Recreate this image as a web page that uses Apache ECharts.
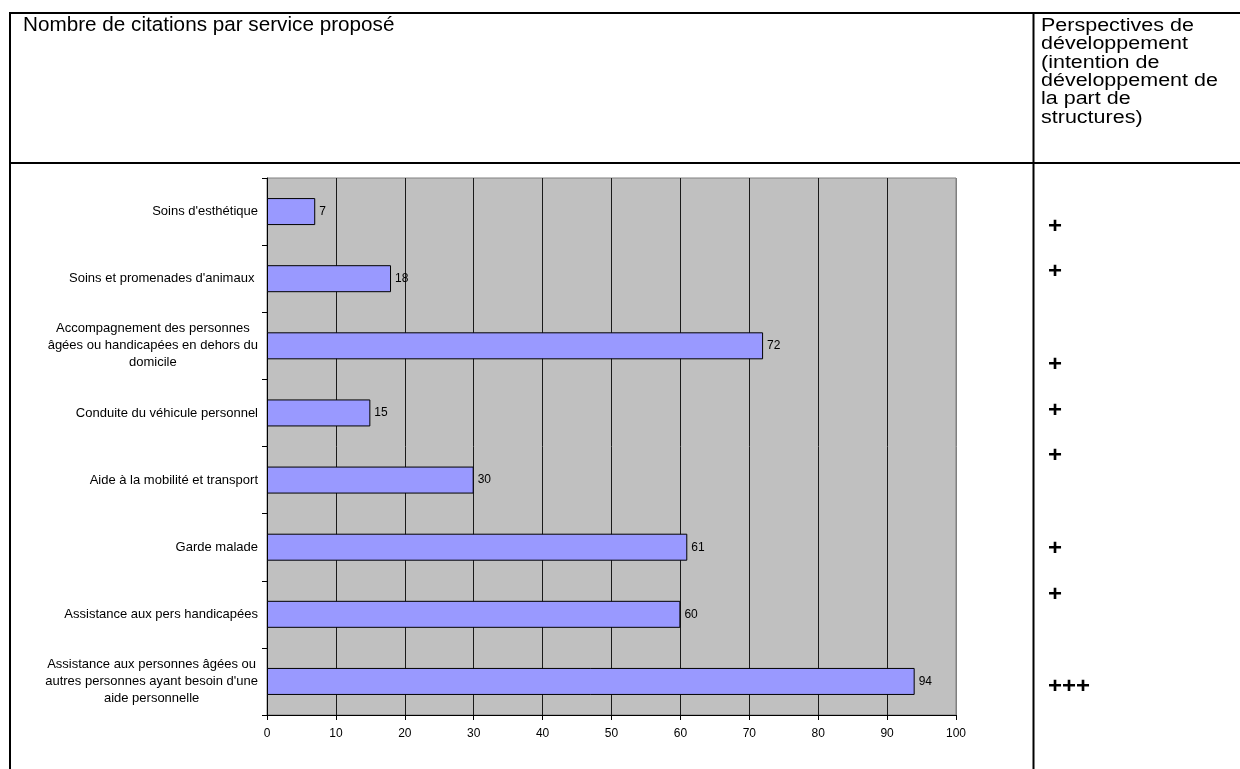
<!DOCTYPE html>
<html><head><meta charset="utf-8">
<script src="https://cdn.jsdelivr.net/npm/echarts@6/dist/echarts.min.js"></script>
<style>html,body{margin:0;padding:0;background:#fff}#c{width:1240px;height:769px}</style>
</head><body><div id="c"></div>
<script>
const titleText = 'Nombre de citations par service proposé';
const sideHeader = 'Perspectives de\ndéveloppement\n(intention de\ndéveloppement de\nla part de\nstructures)';
const categories = [
  "Soins d'esthétique",
  "Soins et promenades d'animaux ",
  "Accompagnement des personnes\nâgées ou handicapées en dehors du\ndomicile",
  "Conduite du véhicule personnel",
  "Aide à la mobilité et transport",
  "Garde malade",
  "Assistance aux pers handicapées",
  "Assistance aux personnes âgées ou\nautres personnes ayant besoin d'une\naide personnelle"
];
const values = [7, 18, 72, 15, 30, 61, 60, 94];
const perspectives = ['+', '+', '+', '+', '+', '+', '+', '+++'];
const axisMin = 0, axisMax = 100, axisStep = 10;

// layout (positions of table text, not data)
const plusY = [227, 272, 365, 411, 456, 549, 595, 687];
const FONT = "'Liberation Sans', Arial, Helvetica, sans-serif";

const chart = echarts.init(document.getElementById('c'), null, {renderer: 'canvas'});

const tableLines = [
  [9, 13, 1240, 13],
  [9, 163, 1240, 163],
  [10, 12, 10, 769],
  [1033.5, 12, 1033.5, 769]
].map(s => ({
  type: 'line', silent: true, z: 100,
  shape: {x1: s[0], y1: s[1], x2: s[2], y2: s[3]},
  style: {stroke: '#000', lineWidth: 2}
}));

const plusTexts = perspectives.map((p, i) => ({
  type: 'text', silent: true, z: 100,
  x: 1048, y: plusY[i], scaleY: 0.95,
  style: {text: p, font: 'bold 24px ' + FONT, fill: '#000', verticalAlign: 'middle', align: 'left'}
}));

const nSplit = (axisMax - axisMin) / axisStep + 1;
const splitColors = [];
for (let i = 0; i < nSplit; i++) splitColors.push(i === nSplit - 1 ? '#808080' : '#1a1a1a');

chart.setOption({
  animation: false,
  backgroundColor: '#fff',
  textStyle: {fontFamily: FONT},
  grid: {
    left: 267, top: 178, right: 284, bottom: 54,
    containLabel: false, outerBoundsMode: 'none',
    show: true, backgroundColor: '#C0C0C0', borderColor: '#808080', borderWidth: 1
  },
  xAxis: {
    type: 'value', min: axisMin, max: axisMax, interval: axisStep,
    axisLine: {show: true, lineStyle: {color: '#000', width: 1}},
    axisTick: {show: true, length: 5, inside: false, lineStyle: {color: '#000'}},
    splitLine: {show: true, lineStyle: {color: splitColors, width: 1}},
    axisLabel: {show: true, fontSize: 12, color: '#000', margin: 13, fontFamily: FONT}
  },
  yAxis: {
    type: 'category', data: categories, inverse: true,
    axisLine: {show: true, lineStyle: {color: '#000', width: 1}},
    axisTick: {show: true, length: 5, inside: false, alignWithLabel: false, lineStyle: {color: '#000'}},
    splitLine: {show: false},
    axisLabel: {
      show: true, margin: 9, color: '#000', fontSize: 13, lineHeight: 17, fontFamily: FONT,
      interval: 0,
      formatter: v => v.split('\n').map(l => '{c|' + l + '}').join('\n'),
      rich: {c: {align: 'center', fontSize: 13, lineHeight: 17, color: '#000', fontFamily: FONT}}
    }
  },
  series: [{
    type: 'bar', data: values, barWidth: 27,
    itemStyle: {color: '#9999FF', borderColor: '#000', borderWidth: 1},
    label: {show: true, position: 'right', distance: 4, fontSize: 12, color: '#000', fontFamily: FONT},
    emphasis: {disabled: true}
  }],
  graphic: [
    {type: 'text', silent: true, z: 100, x: 23, y: 26, scaleY: 0.94,
     style: {text: titleText, font: '20.7px ' + FONT, fill: '#000', verticalAlign: 'middle', align: 'left'}},
    {type: 'text', silent: true, z: 100, x: 1041, y: 16.8, scaleY: 0.86,
     style: {text: sideHeader, font: '21.5px ' + FONT, lineHeight: 21.3, fill: '#000', verticalAlign: 'top', align: 'left'}}
  ].concat(tableLines, plusTexts)
});
</script>
</body></html>
